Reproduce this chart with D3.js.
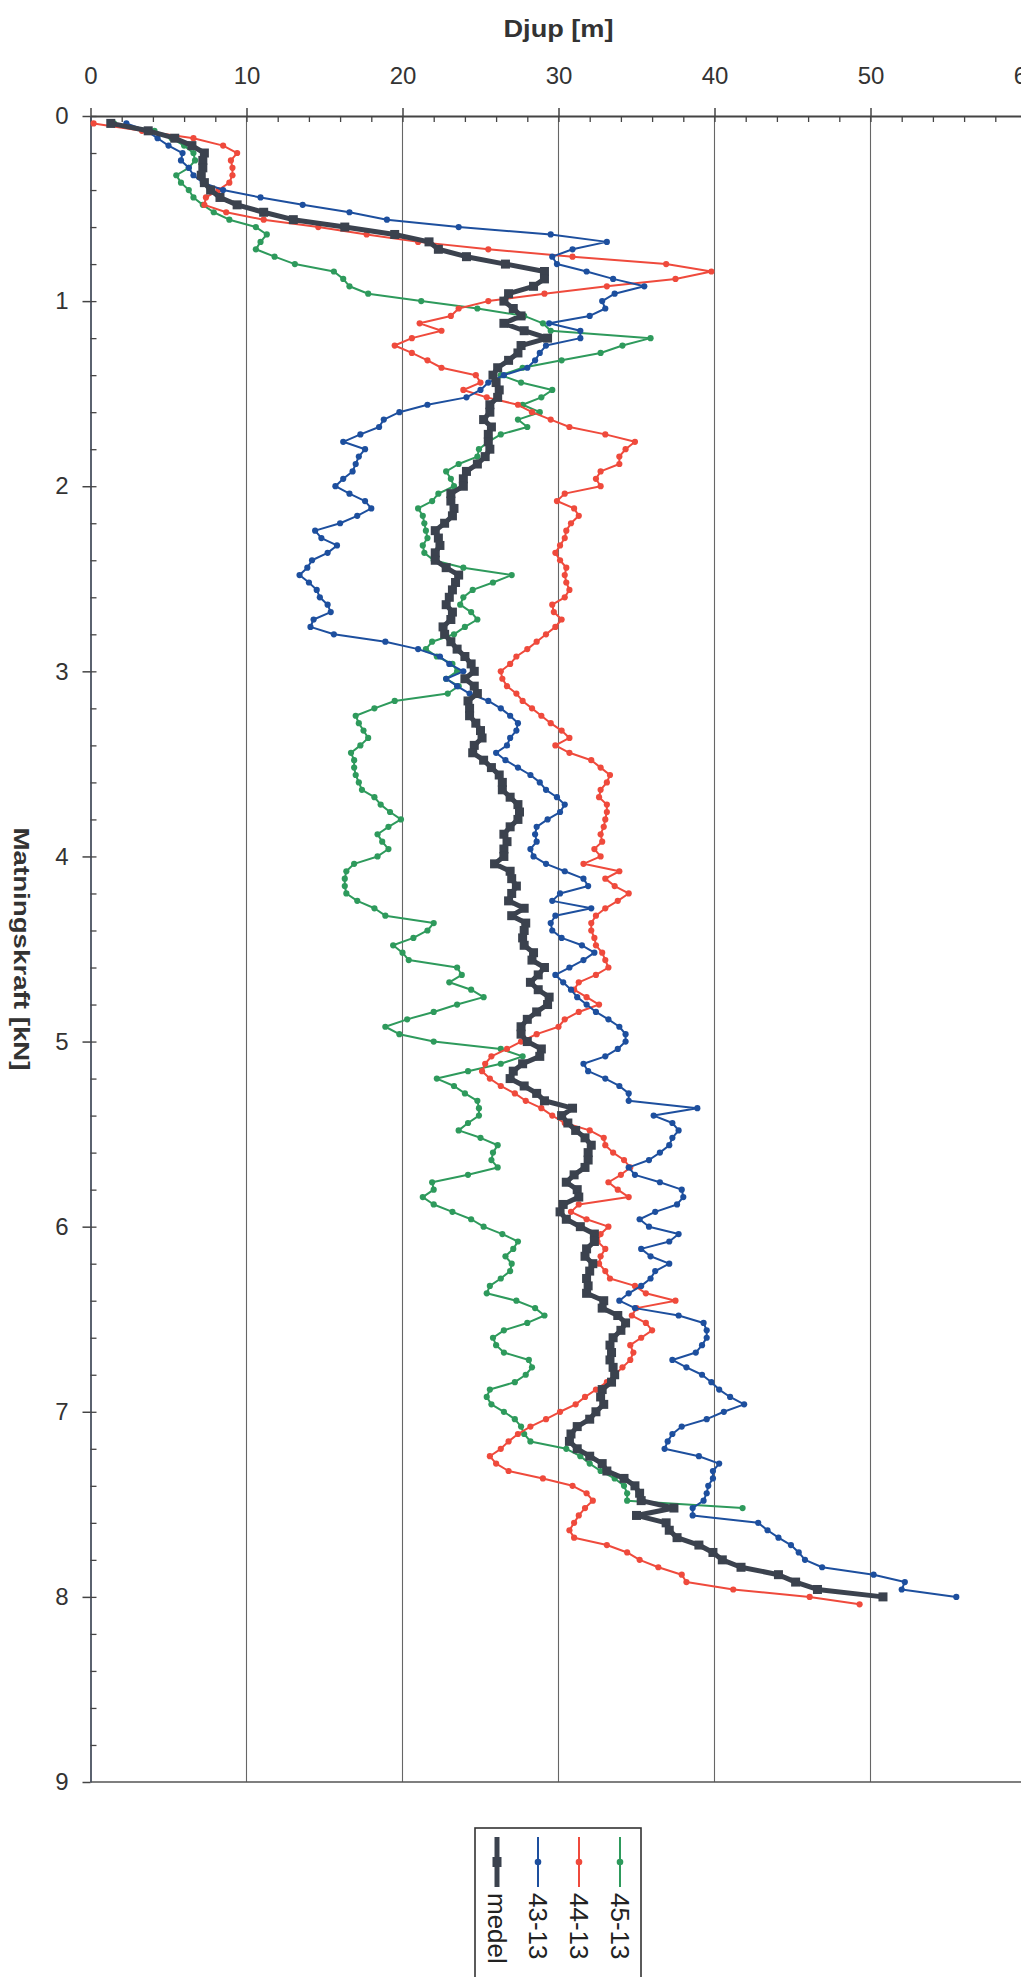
<!DOCTYPE html>
<html><head><meta charset="utf-8">
<script src="https://cdn.jsdelivr.net/npm/d3@7"></script>
<style>
body{margin:0;background:#fff}
svg{display:block}
text{font-family:"Liberation Sans",Arial,sans-serif}
</style>
</head><body>
<svg id="chart" width="1021" height="1977"></svg>
<script>
// Sampling interval of Matningskraft axis (kN)
const kraftStep = 0.04;

// 43-13 (blue), first point at 0.04 kN
const s43 = [
 2.3,3.6,4.3,5.0,5.9,5.8,6.3,6.6,7.2,8.5,
 10.9,13.6,16.6,19.0,23.6,29.5,33.1,30.9,29.6,29.9,
 31.8,33.5,35.5,33.6,32.8,33.0,32.0,29.4,31.4,31.4,
 29.2,28.8,28.5,28.0,26.5,25.5,25.0,24.1,21.6,19.8,
 18.8,18.5,17.3,16.2,17.6,17.2,17.0,16.8,16.2,15.7,
 16.6,17.6,18.0,17.1,16.0,14.4,14.8,15.8,15.2,14.2,
 13.9,13.4,14.0,14.5,14.7,15.2,15.4,14.3,14.1,15.6,
 18.9,21.0,22.4,23.0,23.9,22.8,23.5,24.3,25.5,26.3,
 26.9,27.4,27.3,26.9,26.7,26.0,26.6,27.4,28.2,28.8,
 29.2,29.9,30.4,30.1,29.3,28.6,28.5,28.6,28.2,28.4,
 29.2,30.4,31.6,31.9,30.1,29.6,32.1,29.8,29.5,29.6,
 30.2,31.5,32.3,31.6,30.7,29.8,30.3,30.8,31.2,31.8,
 32.4,33.2,33.9,34.3,34.3,33.8,33.0,31.6,31.9,33.0,
 33.9,34.5,34.5,38.9,36.1,37.3,37.7,37.3,37.1,36.5,
 35.8,34.5,34.9,36.5,37.9,38.0,37.6,36.2,35.2,35.8,
 37.7,37.1,35.3,35.9,37.1,36.2,35.9,35.3,34.5,33.9,
 34.9,37.7,39.3,39.5,39.5,39.2,38.8,37.3,38.2,39.2,
 39.8,40.3,41.0,41.9,40.6,39.5,37.9,37.3,37.0,36.8,
 39.0,40.3,39.9,39.9,39.6,39.5,39.3,38.6,38.6,42.8,
 43.4,44.1,44.9,45.4,45.8,46.9,50.2,52.2,52.0,55.5
];
// 44-13 (red)
const s44 = [
 0.2,3.3,6.6,8.5,9.4,9.0,9.1,9.1,8.9,8.2,
 7.4,7.3,8.7,11.1,14.6,17.7,21.0,25.5,30.9,36.9,
 39.8,37.5,33.1,29.1,25.5,23.6,23.1,21.1,22.5,20.6,
 19.5,20.6,21.6,22.5,24.7,25.0,23.9,25.4,27.4,28.3,
 29.5,30.7,33.0,34.9,34.3,33.9,33.9,32.7,32.4,32.7,
 30.4,29.9,31.0,31.3,30.8,30.5,30.4,30.1,29.8,30.1,
 30.5,30.4,30.5,30.7,30.4,29.6,29.7,30.2,29.8,29.2,
 28.6,28.0,27.3,26.9,26.3,26.4,26.7,27.3,27.7,28.3,
 28.9,29.5,30.2,30.7,29.8,30.7,32.1,32.7,33.3,33.1,
 32.7,32.6,33.1,33.1,33.0,32.9,32.7,32.8,32.3,32.7,
 31.6,33.9,33.0,33.6,34.5,33.8,33.0,32.4,32.1,32.1,
 32.3,32.4,32.8,33.0,33.2,32.4,31.3,31.0,31.8,32.6,
 31.3,30.4,30.0,28.6,27.6,26.7,25.7,25.3,25.1,25.6,
 26.3,27.2,27.9,28.9,29.6,30.4,32.0,32.9,33.0,33.5,
 34.2,34.6,34.0,33.2,33.8,34.5,31.3,30.8,31.8,33.2,
 32.7,32.5,33.0,32.7,32.6,33.0,33.3,34.9,35.6,37.5,
 35.0,34.7,35.6,36.0,35.3,34.6,34.8,34.6,34.1,33.6,
 33.1,32.4,31.7,31.1,30.1,29.2,28.2,27.4,26.8,26.3,
 25.6,26.0,26.8,29.0,30.9,31.8,32.2,31.7,31.3,31.0,
 30.7,31.0,33.1,34.4,35.2,36.4,37.9,38.2,41.2,46.1,
 49.3
];
// 45-13 (green)
const s45 = [
 1.5,4.1,5.2,6.0,6.6,6.7,6.3,5.5,5.8,6.3,
 6.6,7.2,7.9,8.9,10.6,11.3,10.9,10.6,11.8,13.1,
 15.6,16.2,16.6,17.8,21.2,24.8,27.8,29.0,29.5,35.9,
 34.1,32.7,30.2,27.7,26.3,27.6,29.6,28.9,27.7,28.8,
 27.4,28.0,26.3,25.5,24.9,24.8,23.6,22.8,23.1,23.3,
 22.3,21.9,21.0,21.3,21.4,21.5,21.6,21.3,21.4,22.0,
 23.9,27.0,25.8,24.5,23.9,23.7,24.4,24.8,24.0,23.3,
 21.9,21.5,22.2,23.2,23.5,22.8,23.6,22.9,19.5,18.2,
 17.0,17.2,17.5,17.8,17.3,16.7,16.9,16.9,17.0,17.2,
 17.4,18.2,18.6,19.2,19.9,19.1,18.4,18.7,19.1,18.4,
 16.9,16.4,16.3,16.3,16.4,17.1,18.2,18.9,22.0,21.6,
 20.7,19.4,20.0,20.4,23.5,23.8,23.0,24.4,25.2,23.5,
 22.0,20.3,18.9,19.8,22.0,26.3,27.7,26.3,24.2,22.2,
 23.3,24.0,24.8,24.9,24.9,24.2,23.6,25.0,26.1,25.8,
 25.7,26.1,24.2,21.9,22.0,21.3,22.0,23.2,24.4,25.2,
 26.4,27.4,27.1,26.6,27.0,26.9,26.3,25.6,25.4,27.3,
 28.5,29.1,28.0,26.5,25.8,26.0,26.5,28.1,28.3,27.9,
 27.2,25.6,25.4,25.7,26.5,27.2,27.6,27.8,28.2,30.5,
 31.4,32.0,32.7,33.6,34.2,34.4,34.4,41.8
];
// medel (dark, thick)
const medel = [
 1.3,3.7,5.4,6.5,7.3,7.2,7.2,7.1,7.3,7.7,
 8.3,9.4,11.1,13.0,16.3,19.5,21.7,22.3,24.1,26.6,
 29.1,29.1,28.4,26.8,26.5,27.1,27.6,26.5,27.8,29.3,
 27.6,27.4,26.8,26.1,25.8,26.0,26.2,26.1,25.6,25.6,
 25.2,25.7,25.5,25.5,25.6,25.3,24.8,24.1,23.9,23.9,
 23.1,23.1,23.3,23.2,22.7,22.1,22.3,22.4,22.1,22.1,
 22.8,23.6,23.4,23.2,23.0,22.8,23.2,23.1,22.6,22.7,
 23.1,23.5,24.0,24.4,24.6,24.0,24.6,24.8,24.2,24.3,
 24.3,24.7,25.0,25.1,24.6,24.5,25.2,25.7,26.2,26.4,
 26.4,26.9,27.4,27.5,27.4,26.9,26.5,26.7,26.5,26.5,
 25.9,26.9,27.0,27.3,27.0,26.8,27.8,27.0,27.9,27.8,
 27.7,27.8,28.4,28.3,29.1,28.7,28.2,28.7,29.4,29.3,
 28.6,28.0,27.6,27.6,28.0,28.9,28.8,27.7,27.1,26.9,
 27.8,28.6,29.1,30.9,30.2,30.6,31.1,31.7,32.1,31.9,
 31.9,31.7,31.0,30.5,31.2,31.3,30.3,30.1,30.5,31.4,
 32.3,32.3,31.8,31.7,32.2,32.0,31.8,31.9,31.8,32.9,
 32.8,33.8,34.3,34.0,33.5,33.3,33.4,33.3,33.5,33.6,
 33.4,32.8,32.7,32.9,32.4,32.0,31.2,30.8,30.7,31.2,
 32.0,32.8,33.1,34.2,34.9,35.2,35.3,37.4,35.0,36.9,
 37.1,37.6,39.0,39.9,40.5,41.7,44.1,45.2,46.6,50.8
];

const djupTicks = [0,10,20,30,40,50,60];
const kraftTicks = [0,1,2,3,4,5,6,7,8,9];
const seriesNames = ["medel","43-13","44-13","45-13"];
const seriesColors = {"medel":"#3b424e","43-13":"#1d4f9e","44-13":"#ef4a3c","45-13":"#2e9a5c"};
const seriesData = {"medel":medel,"43-13":s43,"44-13":s44,"45-13":s45};

const svg = d3.select("#chart");
const x = d3.scaleLinear().domain([0,60]).range([90.5,1026.5]);
const y = d3.scaleLinear().domain([0,9]).range([116,1782]);

// vertical gridlines
svg.append("g").selectAll("line").data(djupTicks.filter(d=>d>0)).join("line")
  .attr("x1",d=>x(d)).attr("x2",d=>x(d)).attr("y1",y(0)).attr("y2",y(9))
  .attr("stroke","#666").attr("stroke-width",1.1);

// bottom border
svg.append("line").attr("x1",x(0)).attr("x2",x(60)).attr("y1",y(9)).attr("y2",y(9))
  .attr("stroke","#555").attr("stroke-width",1.6);

// top axis
const gTop = svg.append("g").attr("transform",`translate(0,${y(0)})`)
  .call(d3.axisTop(x).tickValues(djupTicks).tickSize(8).tickSizeOuter(0).tickPadding(24));
gTop.select(".domain").attr("stroke","#444").attr("stroke-width",1.8);
gTop.selectAll(".tick line").attr("stroke","#444").attr("stroke-width",1.5);
gTop.selectAll(".tick text").attr("font-size",24).attr("fill","#333")
  .style("font-family","'Liberation Sans',Arial,sans-serif");
const gTopMinor = svg.append("g").attr("transform",`translate(0,${y(0)})`)
  .call(d3.axisTop(x).tickValues(d3.range(0,61,2)).tickSize(-6).tickSizeOuter(0).tickFormat(""));
gTopMinor.select(".domain").remove();
gTopMinor.selectAll(".tick line").attr("stroke","#444").attr("stroke-width",1.3);

// left axis
const gLeft = svg.append("g").attr("transform",`translate(${x(0)},0)`)
  .call(d3.axisLeft(y).tickValues(kraftTicks).tickSize(8).tickSizeOuter(0).tickPadding(14));
gLeft.select(".domain").attr("stroke","#4a5260").attr("stroke-width",1.8);
gLeft.selectAll(".tick line").attr("stroke","#444").attr("stroke-width",1.5);
gLeft.selectAll(".tick text").attr("font-size",24).attr("fill","#333")
  .style("font-family","'Liberation Sans',Arial,sans-serif");
const gLeftMinor = svg.append("g").attr("transform",`translate(${x(0)},0)`)
  .call(d3.axisLeft(y).tickValues(d3.range(0,45).map(i=>i*0.2)).tickSize(-6).tickSizeOuter(0).tickFormat(""));
gLeftMinor.select(".domain").remove();
gLeftMinor.selectAll(".tick line").attr("stroke","#444").attr("stroke-width",1.3);

// titles
svg.append("text").attr("x",(x(0)+x(60))/2).attr("y",37).attr("text-anchor","middle")
  .attr("font-size",24).attr("font-weight","bold").attr("fill","#333")
  .attr("textLength",110).attr("lengthAdjust","spacingAndGlyphs").text("Djup [m]");
svg.append("text").attr("transform",`translate(21,${(y(0)+y(9))/2}) rotate(90)`)
  .attr("text-anchor","middle").attr("dominant-baseline","central")
  .attr("font-size",22).attr("font-weight","bold").attr("fill","#333")
  .attr("textLength",243).attr("lengthAdjust","spacingAndGlyphs").text("Matningskraft [kN]");

// series
const line = d3.line().x(d=>x(d[0])).y(d=>y(d[1]));
function pts(vals){ return vals.map((v,i)=>[v,(i+1)*kraftStep]); }
const drawOrder = ["45-13","44-13","43-13","medel"];
drawOrder.forEach(name=>{
  const p = pts(seriesData[name]);
  const c = seriesColors[name];
  const g = svg.append("g");
  if(name==="medel"){
    g.append("path").datum(p).attr("d",line).attr("fill","none").attr("stroke",c)
      .attr("stroke-width",5).attr("stroke-linejoin","round");
    g.selectAll("rect").data(p).join("rect")
      .attr("x",d=>x(d[0])-4.5).attr("y",d=>y(d[1])-4.5).attr("width",9).attr("height",9).attr("fill",c);
  } else {
    g.append("path").datum(p).attr("d",line).attr("fill","none").attr("stroke",c)
      .attr("stroke-width",2).attr("stroke-linejoin","round");
    g.selectAll("circle").data(p).join("circle")
      .attr("cx",d=>x(d[0])).attr("cy",d=>y(d[1])).attr("r",3.1).attr("fill",c);
  }
});

// legend (rotated)
const lg = svg.append("g");
lg.append("rect").attr("x",475).attr("y",1828).attr("width",166).attr("height",170)
  .attr("fill","#fff").attr("stroke","#333").attr("stroke-width",1.6);
seriesNames.forEach((name,i)=>{
  const lx = 497 + i*41;
  const c = seriesColors[name];
  lg.append("line").attr("x1",lx).attr("x2",lx).attr("y1",1837).attr("y2",1887)
    .attr("stroke",c).attr("stroke-width",name==="medel"?5:2);
  if(name==="medel"){
    lg.append("rect").attr("x",lx-4.5).attr("y",1862-5).attr("width",9).attr("height",10).attr("fill",c);
  } else {
    lg.append("circle").attr("cx",lx).attr("cy",1862).attr("r",3.3).attr("fill",c);
  }
  lg.append("text").attr("transform",`translate(${lx},1893) rotate(90)`)
    .attr("dominant-baseline","central").attr("font-size",26).attr("fill","#222").text(name);
});
</script>
</body></html>
